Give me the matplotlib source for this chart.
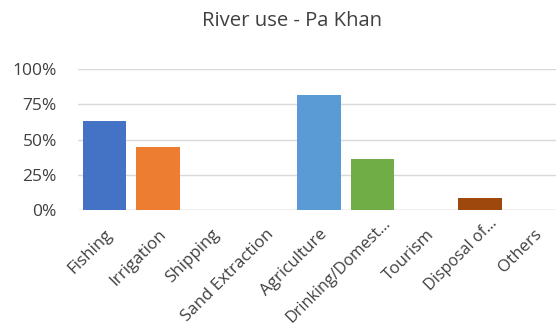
import matplotlib
matplotlib.use("Agg")
import matplotlib.pyplot as plt
from matplotlib.transforms import ScaledTranslation

categories = ["Fishing", "Irrigation", "Shipping", "Sand Extraction", "Agriculture",
              "Drinking/Domest\u2026", "Tourism", "Disposal of\u2026", "Others"]
values = [0.633, 0.449, 0.0, 0.0, 0.816, 0.36, 0.0, 0.087, 0.0]
colors = ["#4472C4", "#ED7D31", "#A5A5A5", "#FFC000", "#5B9BD5",
          "#70AD47", "#264478", "#9E480E", "#636363"]
yticks = [0, 0.25, 0.5, 0.75, 1.0]
ytick_labels = ["0%", "25%", "50%", "75%", "100%"]

plt.rcParams['font.family'] = ['Open Sans', 'DejaVu Sans']

fig = plt.figure(figsize=(5.56, 3.30), dpi=100)
W, H = 556, 330
left, right, top, bottom = 77.7, 560.1, 69, 210
ax = fig.add_axes([left / W, 1 - bottom / H, (right - left) / W, (bottom - top) / H])

x = list(range(len(categories)))
ax.bar(x, values, width=0.82, color=colors, zorder=3)
ax.set_xlim(-0.5, len(categories) - 0.5)
ax.set_ylim(0, 1)
ax.set_yticks(yticks)
ax.set_yticklabels(ytick_labels)
ax.grid(axis='y', color='#D9D9D9', linewidth=1.0, zorder=0)
ax.set_axisbelow(True)
for s in ax.spines.values():
    s.set_visible(False)
ax.axhline(0, color='#D9D9D9', linewidth=1.0, zorder=1)
ax.set_xticks(x)
ax.set_xticklabels(categories, rotation=45, ha='right', rotation_mode='anchor')
ax.tick_params(axis='both', length=0, colors='#404040')
ax.tick_params(axis='y', pad=15, labelsize=12.5)
ax.tick_params(axis='x', pad=12, labelsize=12.2)
for lbl in ax.get_yticklabels() + ax.get_xticklabels():
    lbl.set_color('#404040')
# truncated labels sit a little further up-right (Excel-style truncated box)
for lbl in ax.get_xticklabels():
    if lbl.get_text().endswith("\u2026"):
        lbl.set_fontsize(11.6)
        lbl.set_transform(lbl.get_transform() +
                          ScaledTranslation(7 / 72, 8 / 72, fig.dpi_scale_trans))

fig.text(292 / W, 1 - 21 / H, "River use - Pa Khan", ha='center', va='center',
         fontsize=14.6, color='#404040')

fig.savefig("out.png", dpi=100)
